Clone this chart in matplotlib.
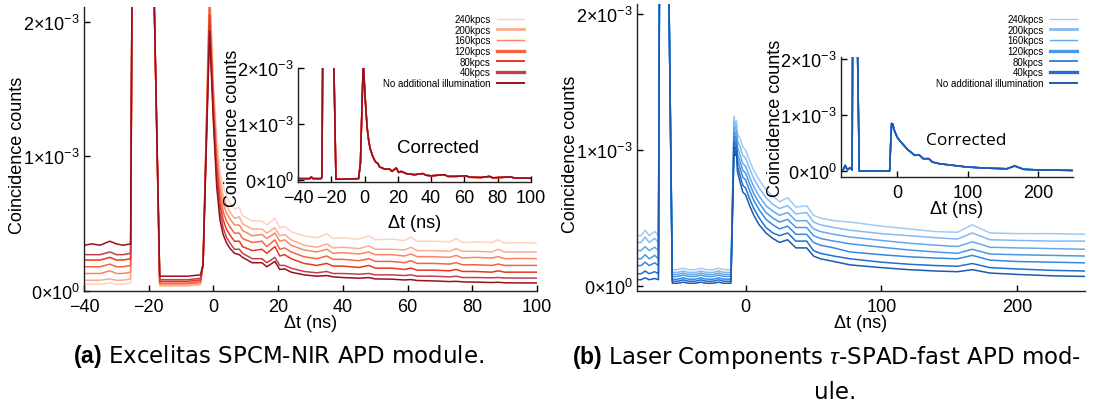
import matplotlib
matplotlib.use('Agg')
import matplotlib.pyplot as plt
from matplotlib.lines import Line2D

plt.rcParams['font.family'] = ['Liberation Sans', 'DejaVu Sans']
plt.rcParams['mathtext.fontset'] = 'custom'
plt.rcParams['mathtext.rm'] = 'Liberation Sans'
plt.rcParams['mathtext.it'] = 'Liberation Sans:italic'
plt.rcParams['mathtext.bf'] = 'Liberation Sans:bold'

W, H = 1105, 406

# ---- data (counts in units of 1e-3) ----
series_labels = ['240kpcs', '200kpcs', '160kpcs', '120kpcs', '80kpcs', '40kpcs',
                 'No additional illumination']

# (a) Excelitas SPCM-NIR, raw
a_t = [-40, -37.5, -35, -32, -30, -28, -25.6, -25.0, -19.0, -16.6, -12, -8, -4.0, -3.2, -1.2,
       0, 1, 2, 3, 4, 5, 6.5, 8, 9, 12, 15, 16.5, 19, 20.5, 22, 24, 28, 32, 35, 37, 40, 45,
       48, 50, 55, 59, 61, 63, 68, 73, 75, 77, 81, 86, 88, 90, 95, 100]
a_240 = [0.05, 0.05, 0.05, 0.06, 0.05, 0.05, 0.06, 3.0, 3.0, 0.035, 0.035, 0.035, 0.045, 0.2, 2.3,
         1.55, 1.15, 0.9, 0.78, 0.71, 0.66, 0.61, 0.62, 0.56, 0.52, 0.52, 0.49, 0.54, 0.47, 0.48,
         0.44, 0.41, 0.395, 0.425, 0.39, 0.395, 0.385, 0.41, 0.38, 0.385, 0.375, 0.40, 0.37, 0.37,
         0.365, 0.39, 0.36, 0.365, 0.36, 0.38, 0.355, 0.36, 0.355]
a_200 = [0.08, 0.08, 0.08, 0.09, 0.08, 0.08, 0.09, 3.0, 3.0, 0.042, 0.042, 0.042, 0.052, 0.2, 2.25,
         1.5, 1.08, 0.83, 0.71, 0.64, 0.59, 0.54, 0.55, 0.50, 0.46, 0.46, 0.43, 0.47, 0.41, 0.42,
         0.38, 0.34, 0.325, 0.35, 0.32, 0.325, 0.315, 0.335, 0.31, 0.31, 0.305, 0.325, 0.30, 0.30,
         0.295, 0.315, 0.295, 0.295, 0.29, 0.31, 0.29, 0.29, 0.29]
a_160 = [0.13, 0.13, 0.13, 0.15, 0.13, 0.13, 0.14, 3.0, 3.0, 0.052, 0.052, 0.052, 0.062, 0.2, 2.2,
         1.45, 1.02, 0.77, 0.65, 0.58, 0.54, 0.49, 0.49, 0.45, 0.41, 0.42, 0.39, 0.43, 0.37, 0.38,
         0.34, 0.305, 0.29, 0.31, 0.28, 0.285, 0.275, 0.29, 0.27, 0.27, 0.26, 0.275, 0.255, 0.255,
         0.25, 0.265, 0.245, 0.25, 0.245, 0.255, 0.24, 0.242, 0.24]
a_120 = [0.18, 0.18, 0.18, 0.20, 0.18, 0.18, 0.19, 3.0, 3.0, 0.059, 0.059, 0.059, 0.069, 0.2, 2.12,
         1.4, 0.96, 0.71, 0.59, 0.52, 0.48, 0.43, 0.43, 0.39, 0.36, 0.37, 0.33, 0.38, 0.31, 0.32,
         0.29, 0.255, 0.24, 0.26, 0.235, 0.235, 0.225, 0.24, 0.22, 0.22, 0.21, 0.225, 0.205, 0.205,
         0.20, 0.21, 0.195, 0.195, 0.19, 0.20, 0.19, 0.19, 0.19]
a_80 = [0.23, 0.23, 0.23, 0.25, 0.23, 0.23, 0.24, 3.0, 3.0, 0.072, 0.072, 0.072, 0.082, 0.2, 2.05,
        1.35, 0.9, 0.65, 0.53, 0.46, 0.42, 0.37, 0.37, 0.33, 0.30, 0.31, 0.28, 0.33, 0.26, 0.27,
        0.24, 0.205, 0.19, 0.205, 0.185, 0.185, 0.175, 0.19, 0.17, 0.17, 0.16, 0.17, 0.155, 0.155,
        0.15, 0.16, 0.145, 0.145, 0.14, 0.15, 0.14, 0.14, 0.14]
a_40 = [0.27, 0.27, 0.27, 0.29, 0.27, 0.27, 0.28, 3.0, 3.0, 0.084, 0.084, 0.084, 0.094, 0.2, 1.98,
        1.3, 0.84, 0.59, 0.47, 0.40, 0.36, 0.31, 0.31, 0.28, 0.24, 0.24, 0.21, 0.25, 0.19, 0.19,
        0.17, 0.145, 0.135, 0.145, 0.13, 0.13, 0.125, 0.13, 0.12, 0.12, 0.115, 0.12, 0.11, 0.11,
        0.105, 0.11, 0.10, 0.10, 0.098, 0.10, 0.097, 0.096, 0.096]
a_0 = [0.34, 0.35, 0.34, 0.37, 0.35, 0.34, 0.35, 3.0, 3.0, 0.11, 0.11, 0.11, 0.12, 0.2, 1.93,
       1.25, 0.78, 0.53, 0.42, 0.36, 0.32, 0.28, 0.27, 0.25, 0.21, 0.21, 0.18, 0.22, 0.16, 0.165,
       0.14, 0.12, 0.11, 0.115, 0.105, 0.10, 0.095, 0.10, 0.09, 0.088, 0.082, 0.085, 0.078, 0.075,
       0.07, 0.072, 0.068, 0.066, 0.063, 0.065, 0.061, 0.06, 0.06]

# (a) corrected (inset)
ac_t = [-40, -33, -32, -31, -26.2, -25.6, -25.0, -19.0, -17.2, -12, -8, -3.6, -2.5, -0.8, 0.5,
        1.5, 2.5, 3.5, 5, 6.5, 8, 9, 12, 15, 16.5, 19, 20.5, 22, 25, 30, 35, 37, 40, 48, 50, 55,
        61, 63, 70, 75, 77, 81, 88, 90, 95, 100]
ac_y = [0.03, 0.03, 0.06, 0.03, 0.03, 0.05, 3.0, 3.0, 0.02, 0.02, 0.025, 0.03, 0.3, 2.1, 1.4,
        0.95, 0.7, 0.55, 0.42, 0.33, 0.3, 0.24, 0.2, 0.2, 0.16, 0.22, 0.14, 0.16, 0.12, 0.1, 0.12,
        0.09, 0.08, 0.1, 0.07, 0.07, 0.08, 0.055, 0.05, 0.07, 0.045, 0.05, 0.06, 0.04, 0.04, 0.035]

# (b) Laser Components tau-SPAD-fast, raw
b_t = [-80, -77, -74, -71, -67, -64.2, -63.2, -57.5, -54, -50, -46, -42, -37, -33, -29, -24, -20,
       -16, -10.8, -8.5, -7.6, -6.8, -6, -4, -2, 0, 3, 6, 10, 15, 20, 25, 31, 37, 45, 50, 55, 65,
       77, 100, 120, 140, 156, 167, 180, 200, 225, 250]
b_240 = [0.37, 0.37, 0.41, 0.37, 0.40, 0.37, 3.0, 3.0, 0.12, 0.12, 0.13, 0.12, 0.12, 0.13, 0.12,
         0.12, 0.13, 0.12, 0.12,
         1.25, 1.19, 1.22, 1.12, 1.08, 1.02, 1.0, 0.92, 0.85, 0.78, 0.71, 0.66, 0.62, 0.65, 0.58,
         0.59, 0.52, 0.50, 0.48, 0.47, 0.44, 0.42, 0.40, 0.395, 0.45, 0.39, 0.385, 0.385, 0.38]
b_200 = [0.32, 0.32, 0.36, 0.32, 0.35, 0.32, 3.0, 3.0, 0.10, 0.10, 0.11, 0.10, 0.10, 0.11, 0.10,
         0.10, 0.11, 0.10, 0.10,
         1.21, 1.15, 1.18, 1.07, 1.02, 0.96, 0.94, 0.86, 0.79, 0.72, 0.65, 0.60, 0.57, 0.59, 0.53,
         0.54, 0.47, 0.45, 0.43, 0.41, 0.385, 0.37, 0.355, 0.345, 0.39, 0.34, 0.335, 0.33, 0.33]
b_160 = [0.26, 0.26, 0.29, 0.26, 0.285, 0.26, 3.0, 3.0, 0.085, 0.085, 0.095, 0.085, 0.085, 0.095,
         0.085, 0.085, 0.095, 0.085, 0.085,
         1.17, 1.11, 1.14, 1.02, 0.96, 0.90, 0.88, 0.80, 0.73, 0.66, 0.59, 0.55, 0.52, 0.54, 0.48,
         0.48, 0.42, 0.40, 0.38, 0.36, 0.335, 0.315, 0.30, 0.29, 0.325, 0.285, 0.28, 0.275, 0.27]
b_120 = [0.20, 0.20, 0.23, 0.20, 0.225, 0.20, 3.0, 3.0, 0.07, 0.07, 0.08, 0.07, 0.07, 0.08, 0.07,
         0.07, 0.08, 0.07, 0.07,
         1.13, 1.07, 1.10, 0.97, 0.91, 0.85, 0.83, 0.75, 0.68, 0.61, 0.54, 0.50, 0.47, 0.49, 0.43,
         0.43, 0.37, 0.35, 0.33, 0.31, 0.285, 0.265, 0.25, 0.24, 0.27, 0.235, 0.23, 0.225, 0.22]
b_80 = [0.15, 0.15, 0.175, 0.15, 0.17, 0.15, 3.0, 3.0, 0.05, 0.05, 0.06, 0.05, 0.05, 0.06, 0.05,
        0.05, 0.06, 0.05, 0.05,
        1.10, 1.04, 1.07, 0.93, 0.86, 0.80, 0.78, 0.70, 0.63, 0.56, 0.49, 0.45, 0.42, 0.44, 0.38,
        0.38, 0.32, 0.30, 0.28, 0.25, 0.23, 0.215, 0.205, 0.20, 0.225, 0.19, 0.18, 0.175, 0.17]
b_40 = [0.09, 0.09, 0.11, 0.09, 0.105, 0.09, 3.0, 3.0, 0.035, 0.035, 0.045, 0.035, 0.035, 0.045,
        0.035, 0.035, 0.045, 0.035, 0.035,
        1.06, 1.00, 1.03, 0.88, 0.81, 0.74, 0.72, 0.64, 0.57, 0.50, 0.43, 0.39, 0.37, 0.39, 0.33,
        0.33, 0.26, 0.24, 0.22, 0.20, 0.175, 0.16, 0.15, 0.145, 0.165, 0.135, 0.125, 0.115, 0.11]
b_0 = [0.046, 0.046, 0.06, 0.046, 0.055, 0.046, 3.0, 3.0, 0.02, 0.02, 0.028, 0.02, 0.02, 0.028,
       0.02, 0.02, 0.028, 0.02, 0.02,
       1.02, 0.96, 0.99, 0.84, 0.76, 0.69, 0.67, 0.59, 0.52, 0.45, 0.39, 0.35, 0.32, 0.34, 0.28,
       0.28, 0.22, 0.20, 0.18, 0.155, 0.135, 0.12, 0.11, 0.105, 0.12, 0.095, 0.085, 0.075, 0.07]

# (b) corrected (inset)
bc_t = [-80, -77, -74, -71, -67, -64.2, -63.2, -57.5, -54, -40, -20, -10.8, -9.0, -8.0, -7.3,
        -6.5, -4, -2, 0, 5, 10, 15, 20, 25, 31, 37, 45, 50, 60, 80, 100, 130, 156, 167, 180, 200,
        250]
bc_y = [0.02, 0.02, 0.1, 0.02, 0.06, 0.02, 3.0, 3.0, 0.0, 0.0, 0.0, 0.0, 0.6, 0.85, 0.8, 0.84,
        0.72, 0.66, 0.6, 0.52, 0.45, 0.38, 0.33, 0.28, 0.29, 0.22, 0.22, 0.16, 0.13, 0.1, 0.07,
        0.05, 0.04, 0.09, 0.03, 0.02, 0.01]

a_series = [a_240, a_200, a_160, a_120, a_80, a_40, a_0]
b_series = [b_240, b_200, b_160, b_120, b_80, b_40, b_0]

reds = ['#fdd3c0', '#fcab8f', '#fb8464', '#f6633f', '#e8371f', '#c0404c', '#980f1c']
blues = ['#9fcbf4', '#84baf0', '#66a8ec', '#4b97e6', '#3687e0', '#1f6fd0', '#1d5aae']
legend_lw = [1.0, 2.0, 1.0, 2.4, 1.4, 2.4, 1.4]

y_ticks = [0, 1e-3, 2e-3]
y_ticklabels = [r'$0{\times}10^{0}$', r'$1{\times}10^{-3}$', r'$2{\times}10^{-3}$']
a_xticks = [-40, -20, 0, 20, 40, 60, 80, 100]
b_xticks = [0, 100, 200]

SCALE = 1e-3
FS = 13


def style(ax, xticks):
    for s in ['top', 'right']:
        ax.spines[s].set_visible(False)
    for s in ['left', 'bottom']:
        ax.spines[s].set_linewidth(1.0)
        ax.spines[s].set_color('#222222')
    ax.set_xticks(xticks)
    ax.set_yticks(y_ticks)
    ax.set_yticklabels(y_ticklabels)
    ax.tick_params(direction='in', length=4, width=1, labelsize=FS, pad=5,
                   top=False, right=False)
    ax.tick_params(axis='y', pad=3)
    ax.patch.set_alpha(0)


fig = plt.figure(figsize=(W / 100, H / 100), dpi=100)


# axes boxes in pixels: (left, top, right, bottom)
def box(l, t, r, b):
    return [l / W, 1 - b / H, (r - l) / W, (b - t) / H]


ax_a = fig.add_axes(box(84, 8, 537, 292))
ax_b = fig.add_axes(box(637, 5, 1085, 292))
in_a = fig.add_axes(box(298, 69, 531, 183))
in_b = fig.add_axes(box(841, 58, 1073, 178))

for ys, c in zip(a_series, reds):
    ax_a.plot(a_t, [v * SCALE for v in ys], color=c, lw=1.1)
for c in reds:
    in_a.plot(ac_t, [v * SCALE for v in ac_y], color=c, lw=1.1)
for ys, c in zip(b_series, blues):
    ax_b.plot(b_t, [v * SCALE for v in ys], color=c, lw=1.1)
for c in blues:
    in_b.plot(bc_t, [v * SCALE for v in bc_y], color=c, lw=1.1)

ax_a.set_xlim(-40, 100)
ax_a.set_ylim(0, 2.11e-3)
in_a.set_xlim(-40, 100)
in_a.set_ylim(-0.03e-3, 2.0e-3)
ax_b.set_xlim(-80, 250)
ax_b.set_ylim(-0.037e-3, 2.074e-3)
in_b.set_xlim(-80, 250)
in_b.set_ylim(-0.107e-3, 2.036e-3)

for ax, xt in [(ax_a, a_xticks), (in_a, a_xticks), (ax_b, b_xticks), (in_b, b_xticks)]:
    style(ax, xt)
    ax.set_xlabel('Δt (ns)', fontsize=FS)
    ax.set_ylabel('Coincidence counts', fontsize=FS)

ax_a.xaxis.set_label_coords(0.5, -0.08)
ax_b.xaxis.set_label_coords(0.5, -0.08)
ax_a.yaxis.set_label_coords(-0.128, 0.48)
ax_b.yaxis.set_label_coords(-0.129, 0.48)
in_a.xaxis.set_label_coords(0.5, -0.28)
in_b.xaxis.set_label_coords(0.5, -0.195)
in_a.yaxis.set_label_coords(-0.245, 0.48)
in_b.yaxis.set_label_coords(-0.246, 0.5)

in_a.text(0.6, 0.3, 'Corrected', transform=in_a.transAxes, fontsize=13.5,
          ha='center', va='center')
in_b.text(0.54, 0.31, 'Corrected', transform=in_b.transAxes, fontsize=12.5,
          ha='center', va='center', family=['Open Sans', 'DejaVu Sans'])

for cols, right in [(reds, 524), (blues, 1077)]:
    handles = [Line2D([], [], color=c, lw=lw) for c, lw in zip(cols, legend_lw)]
    fig.legend(handles, series_labels, loc='upper right',
               bbox_to_anchor=(right / W, 1 - 15 / H), bbox_transform=fig.transFigure,
               frameon=False, markerfirst=False, fontsize=7, handlelength=2.8,
               handletextpad=0.6, labelspacing=0.07, borderpad=0, borderaxespad=0)

cap_font = ['DejaVu Sans']
fig.text(278 / W, 1 - 357 / H, r'$\mathbf{(a)}$ Excelitas SPCM-NIR APD module.',
         ha='center', va='center', fontsize=16.5, family=cap_font)
fig.text(827 / W, 1 - 358 / H, r'$\mathbf{(b)}$ Laser Components $\tau$-SPAD-fast APD mod-',
         ha='center', va='center', fontsize=16.5, family=cap_font)
fig.text(835 / W, 1 - 393 / H, 'ule.', ha='center', va='center', fontsize=16.5,
         family=cap_font)

fig.savefig('out.png', dpi=100)
